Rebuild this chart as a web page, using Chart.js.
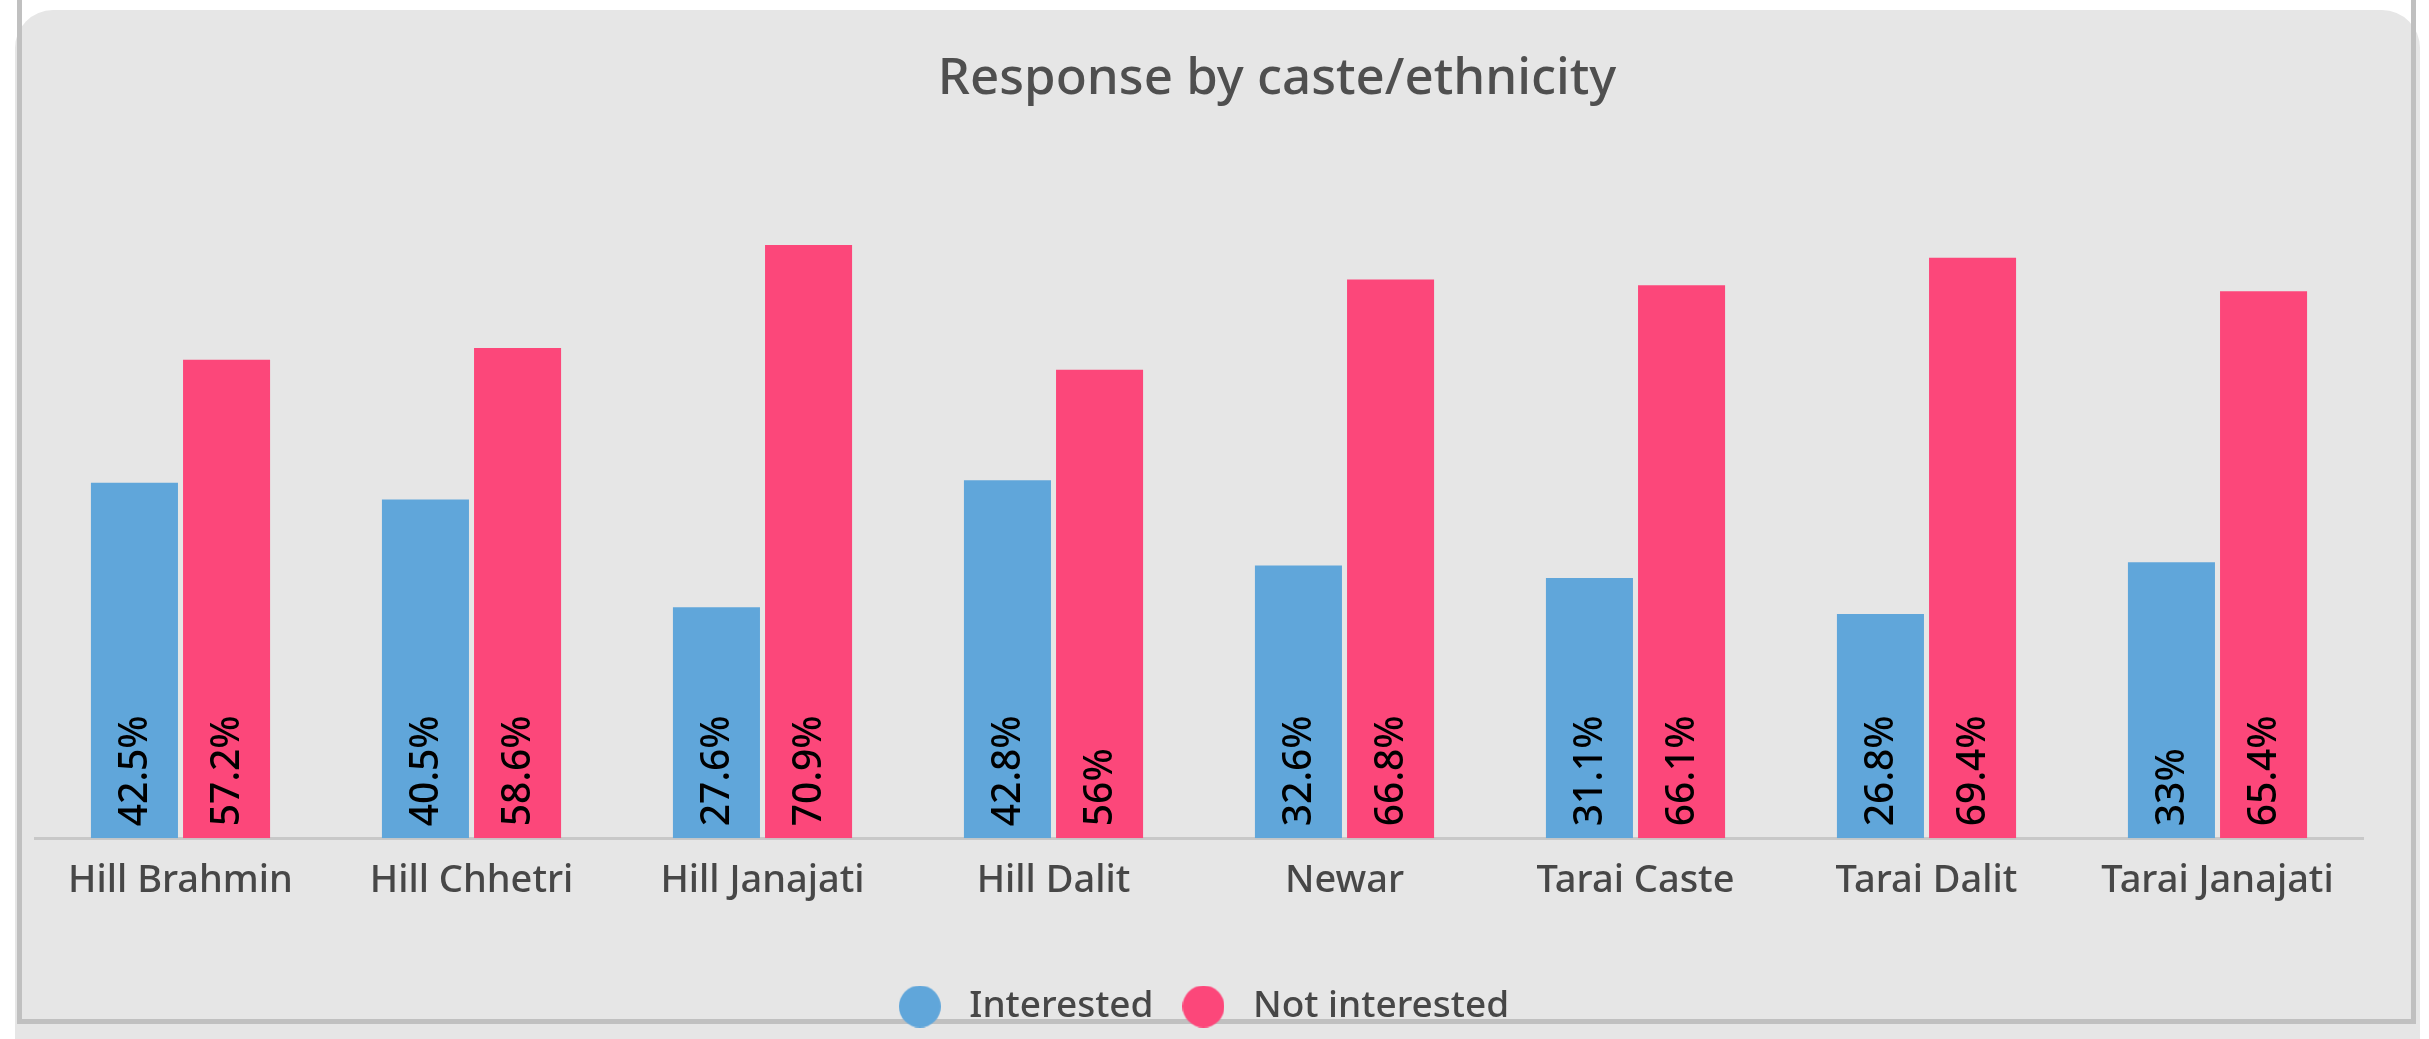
<!DOCTYPE html>
<html>
<head>
<meta charset="utf-8">
<title>Response by caste/ethnicity</title>
<style>
  body { margin: 0; background: #fff; width: 2429px; height: 1039px; overflow: hidden; position: relative; font-family: "Noto Sans", sans-serif; }
  .box { position: absolute; left: 15px; top: 10px; width: 2405px; height: 1070px; background: #e6e6e6; border-radius: 38px; }
  .frame { position: absolute; left: 17px; top: -10px; width: 2389px; height: 1029px; border: 5px solid #c0c0c0; border-top: none; }
  .label { position: absolute; left: 0; top: 48px; width: 2554px; margin: 0; text-align: center; font-size: 51px; line-height: 52px; font-weight: 500; color: #4f4f4f; }
  #chart { position: absolute; left: 22px; top: 0; }
</style>
</head>
<body>
  <div class="box"></div>
  <div class="frame"></div>
  <h3 class="label">Response by caste/ethnicity</h3>
  <canvas id="chart" width="2389" height="1039" style="width:2389px;height:1039px"></canvas>
<script src="https://cdn.jsdelivr.net/npm/chart.js@4.4.0/dist/chart.umd.min.js"></script>
<script>
const categories = ['Hill Brahmin', 'Hill Chhetri', 'Hill Janajati', 'Hill Dalit', 'Newar', 'Tarai Caste', 'Tarai Dalit', 'Tarai Janajati'];
const interested = [42.5, 40.5, 27.6, 42.8, 32.6, 31.1, 26.8, 33];
const notInterested = [57.2, 58.6, 70.9, 56, 66.8, 66.1, 69.4, 65.4];
const seriesNames = ['Interested', 'Not interested'];

// round legend marker, drawn once as a small canvas
function dot(color) {
  const c = document.createElement('canvas');
  c.width = 42; c.height = 42;
  const g = c.getContext('2d');
  g.fillStyle = color;
  g.beginPath();
  g.arc(21, 21, 21, 0, Math.PI * 2);
  g.fill();
  return c;
}

// vertical value labels at the foot of each bar
const barValueLabels = {
  id: 'barValueLabels',
  afterDatasetsDraw(chart) {
    const ctx = chart.ctx;
    ctx.save();
    ctx.font = '500 39px "Noto Sans"';
    ctx.fillStyle = '#000';
    ctx.textAlign = 'left';
    ctx.textBaseline = 'middle';
    chart.data.datasets.forEach((ds, i) => {
      chart.getDatasetMeta(i).data.forEach((bar, j) => {
        ctx.save();
        ctx.translate(bar.x + 1, bar.base - 12);
        ctx.rotate(-Math.PI / 2);
        ctx.fillText(ds.data[j] + '%', 0, 0);
        ctx.restore();
      });
    });
    ctx.restore();
  }
};

const tickFont = { family: "'Noto Sans', sans-serif", size: 38, weight: 500 };

new Chart(document.getElementById('chart'), {
  type: 'bar',
  data: {
    labels: categories,
    datasets: [{
      label: seriesNames[0],
      data: interested,
      backgroundColor: '#60a6da',
      pointStyle: dot('#60a6da'),
      categoryPercentage: 0.633,
      barPercentage: 0.945
    }, {
      label: seriesNames[1],
      data: notInterested,
      backgroundColor: '#fc477a',
      pointStyle: dot('#fc477a'),
      categoryPercentage: 0.633,
      barPercentage: 0.945
    }]
  },
  options: {
    responsive: false,
    animation: false,
    layout: { padding: { top: 169, left: 13, right: 48, bottom: 4 } },
    plugins: {
      title: { display: false },
      tooltip: { enabled: false },
      legend: {
        position: 'bottom',
        labels: {
          usePointStyle: true,
          pointStyleWidth: 62,
          padding: 19,
          color: '#474747',
          font: { family: "'Noto Sans', sans-serif", size: 37, weight: 500 }
        }
      }
    },
    scales: {
      x: {
        grid: { display: false, drawTicks: false },
        border: { color: '#c8c8c8', width: 3 },
        ticks: { color: '#474747', padding: 20, font: tickFont },
        title: { display: true, text: '', font: { size: 1 }, padding: { top: 0, bottom: 44 } }
      },
      y: { display: false, min: 0, max: 80 }
    }
  },
  plugins: [barValueLabels]
});
</script>
</body>
</html>
